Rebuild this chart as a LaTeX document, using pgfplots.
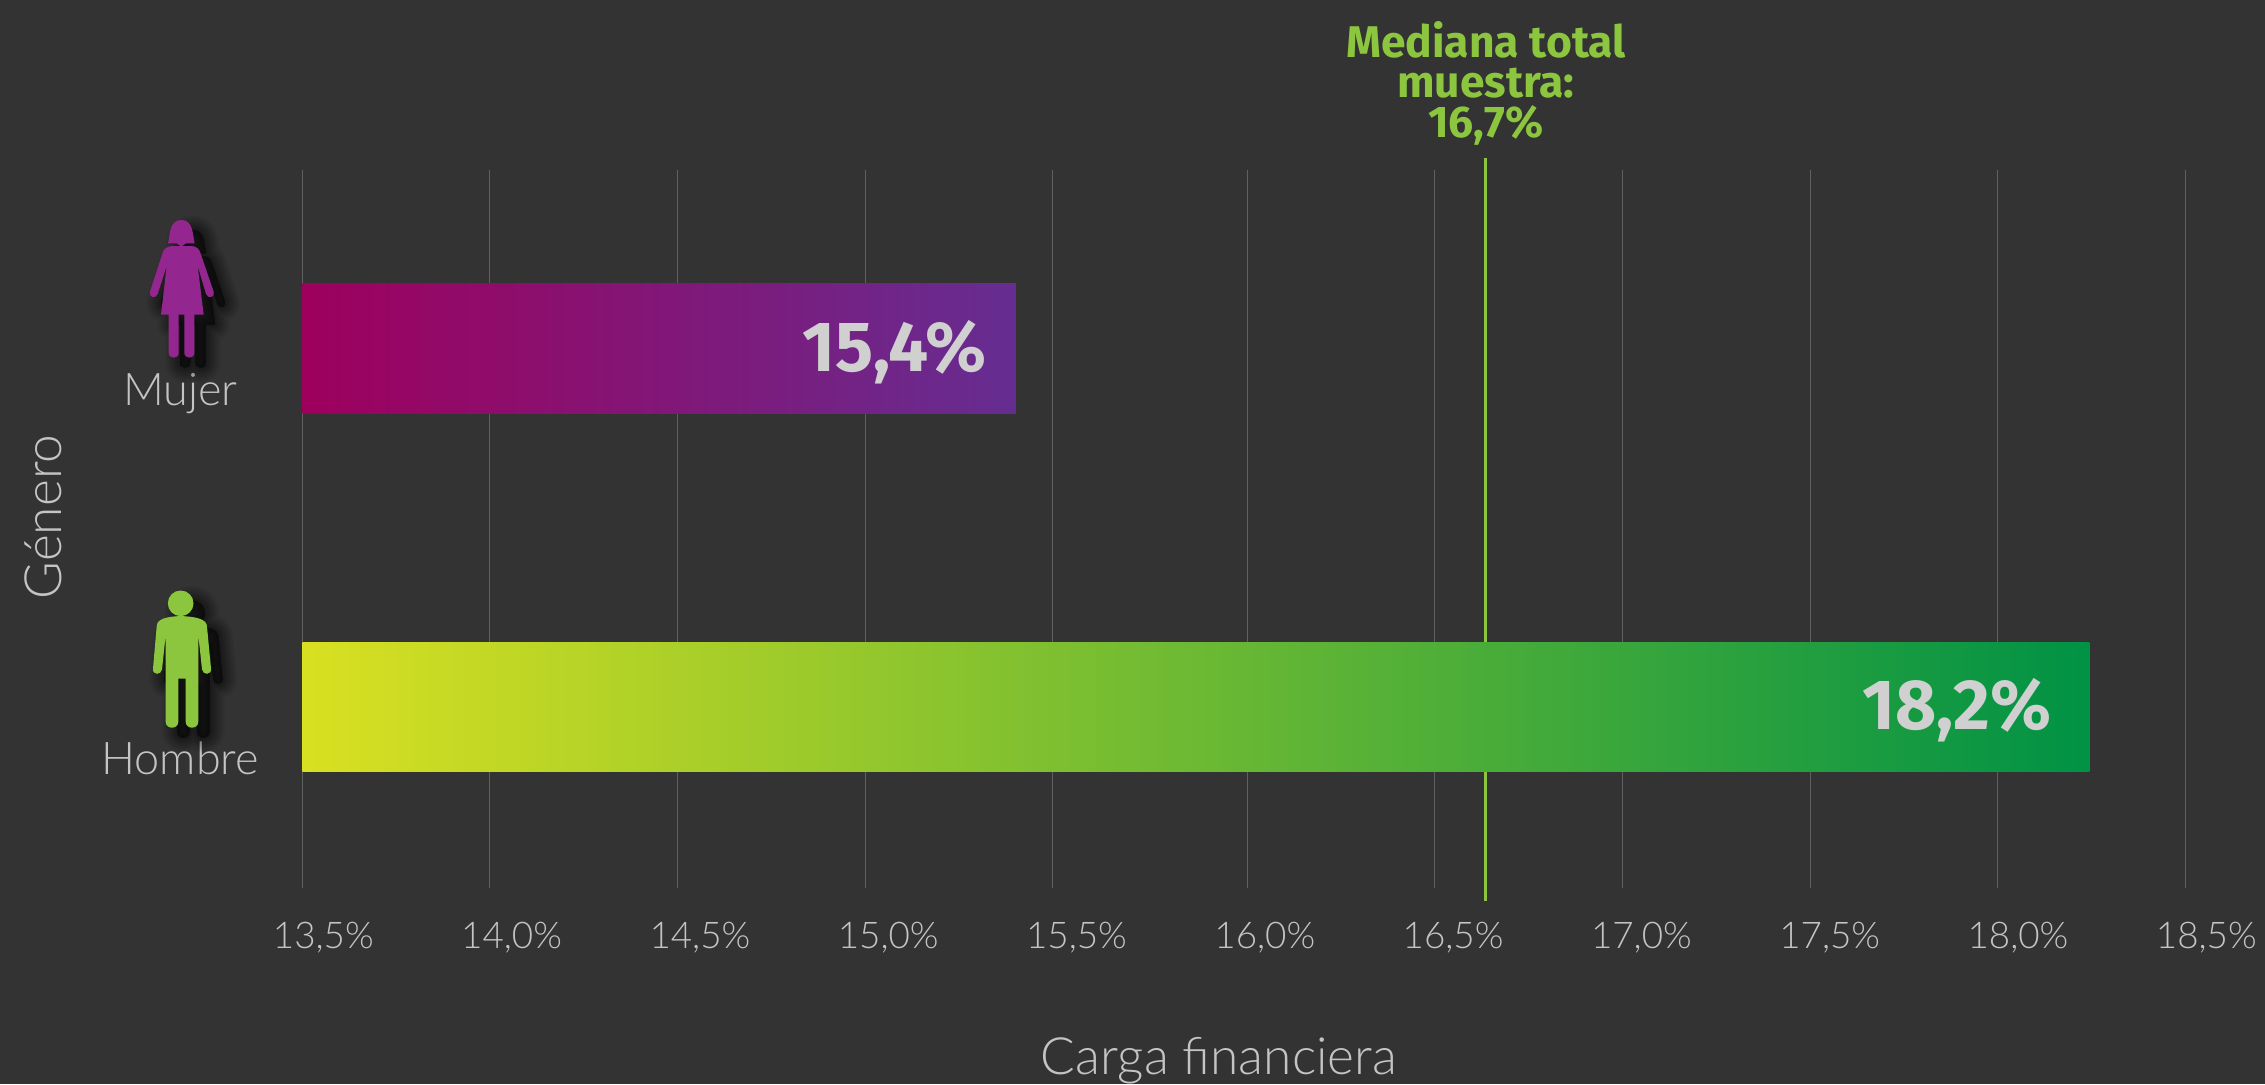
\documentclass[border=0pt]{standalone}
\usepackage{pgfplots}
\pgfplotsset{compat=1.18}
\usepackage{fontspec}
\setmainfont{Lato}
\newfontfamily\lightf{Lato Light}
\newfontfamily\boldf{Fira Sans Bold}
\definecolor{bg}{HTML}{333333}
\definecolor{gridc}{HTML}{606060}
\definecolor{txt}{HTML}{C4C4C4}
\definecolor{valtxt}{HTML}{D0D0D0}
\definecolor{lime}{HTML}{8CC63F}
\definecolor{purp}{HTML}{93278F}
\definecolor{magA}{HTML}{9E005D}
\definecolor{magB}{HTML}{662D91}
\definecolor{yelA}{HTML}{D9E021}
\definecolor{grnB}{HTML}{009245}
\newcommand{\womanpath}{
  (324,190) .. controls (330,170) and (326,120) .. (364,120) .. controls (402,120) and (398,170) .. (404,190) -- (378,190) -- (364,200) -- (350,190) -- cycle
  (335,198) -- (395,198) .. controls (410,200) and (417,206) .. (421,218) -- (461,335) .. controls (466,352) and (444,358) .. (438,342) -- (413,258) -- (431,404) -- (403,404) -- (403,518) .. controls (403,538) and (373,538) .. (373,518) -- (373,404) -- (356,404) -- (356,518) .. controls (356,538) and (326,538) .. (326,518) -- (326,404) -- (303,404) -- (320,258) -- (293,342) .. controls (287,358) and (265,352) .. (270,335) -- (308,218) .. controls (312,206) and (320,200) .. (335,198) -- cycle
}
\newcommand{\manpath}{
  (400.5,130) arc[start angle=0,end angle=360,radius=38.5]
  (362,168) .. controls (405,170) and (441,176) .. (441,200) -- (453,326) .. controls (455,346) and (428,346) .. (426,328) -- (415,225) -- (415,485) .. controls (415,509) and (377,509) .. (377,485) -- (377,356) -- (355,356) -- (355,485) .. controls (355,509) and (317,509) .. (317,485) -- (317,225) -- (306,328) .. controls (304,346) and (277,346) .. (279,326) -- (290,200) .. controls (290,176) and (320,170) .. (362,168) -- cycle
}
\begin{document}
\begin{tikzpicture}
\useasboundingbox (0,0) rectangle (1132.5pt,542pt);
\fill[bg] (0,0) rectangle (1132.5pt,542pt);
\begin{axis}[
  at={(151.15pt,98pt)}, anchor=south west,
  scale only axis, width=941.5pt, height=359pt,
  clip=false,
  xmin=13.5, xmax=18.5, ymin=-0.507, ymax=1.4986,
  xtick={13.5,14,14.5,15,15.5,16,16.5,17,17.5,18,18.5},
  xticklabels={{13,5\%},{14,0\%},{14,5\%},{15,0\%},{15,5\%},{16,0\%},{16,5\%},{17,0\%},{17,5\%},{18,0\%},{18,5\%}},
  minor xtick={13.5,13.9966,14.4958,14.995,15.4915,16.0093,16.5058,17.005,17.5042,18.0008,18.5},
  xminorgrids, minor grid style={gridc,line width=0.55pt},
  ytick={0,1},
  yticklabels={\raisebox{-2.9pt}{Hombre},\raisebox{2.75pt}{Mujer}},
  axis line style={draw=none}, tick style={draw=none}, minor tick style={draw=none},
  tick label style={txt,font=\lightf\fontsize{18.4}{22}\selectfont},
  xticklabel style={xshift=10.5pt,yshift=-13.5pt},
  yticklabel style={anchor=base,xshift=-61pt,yshift=-31pt,font=\lightf\fontsize{22.5}{26}\selectfont},
  xlabel={Carga financiera}, ylabel={Género},
  label style={txt,font=\lightf\fontsize{25.7}{28}\selectfont},
  xlabel style={at={(axis description cs:0.4868,-0.240)},anchor=center},
  ylabel style={at={(axis description cs:-0.1377,0.5167)},anchor=center},
]
\addplot[lime,line width=1.5pt] coordinates {(16.641,-0.543) (16.641,1.532)};
\addplot[xbar,bar width=64.5pt,bar shift=0pt,draw=none,left color=magA,right color=magB,
  nodes near coords={15,4\%},nodes near coords align={anchor=east},
  every node near coord/.append style={valtxt,font=\boldf\fontsize{35.5}{38}\selectfont,xshift=-11pt,yshift=-2pt}] coordinates {(15.395,1)};
\addplot[xbar,bar width=64.5pt,bar shift=0pt,draw=none,left color=yelA,right color=grnB,
  nodes near coords={18,2\%},nodes near coords align={anchor=east},
  every node near coord/.append style={valtxt,font=\boldf\fontsize{35.5}{38}\selectfont,xshift=-15.5pt,yshift=-2pt}] coordinates {(18.245,0)};
\end{axis}
% title above the median line (centre x = 1486 px)
\node[lime,font=\boldf\fontsize{22.2}{20}\selectfont,align=center,anchor=north] at (743pt,535pt) {Mediana total\\muestra:\\16,7\%};
% icons: zoom coordinates (1/3 px) with their crop origin
\begin{scope}[x=0.16667pt,y=-0.16667pt,shift={(30pt,452pt)}]
  \foreach \w in {90,83,76,69,62,55,48,41,34,27,20,13,6}{
    \begin{scope}[shift={(34,30)}]
      \draw[black,opacity=0.04,line width=\w*0.16667pt,line join=round,line cap=round] \womanpath;
      \fill[black,opacity=0.04] \womanpath;
    \end{scope}}
  \fill[purp] \womanpath;
\end{scope}
\begin{scope}[x=0.16667pt,y=-0.16667pt,shift={(30pt,262pt)}]
  \foreach \w in {90,83,76,69,62,55,48,41,34,27,20,13,6}{
    \begin{scope}[shift={(34,30)}]
      \draw[black,opacity=0.04,line width=\w*0.16667pt,line join=round,line cap=round] \manpath;
      \fill[black,opacity=0.04] \manpath;
    \end{scope}}
  \fill[lime] \manpath;
\end{scope}
\end{tikzpicture}
\end{document}
